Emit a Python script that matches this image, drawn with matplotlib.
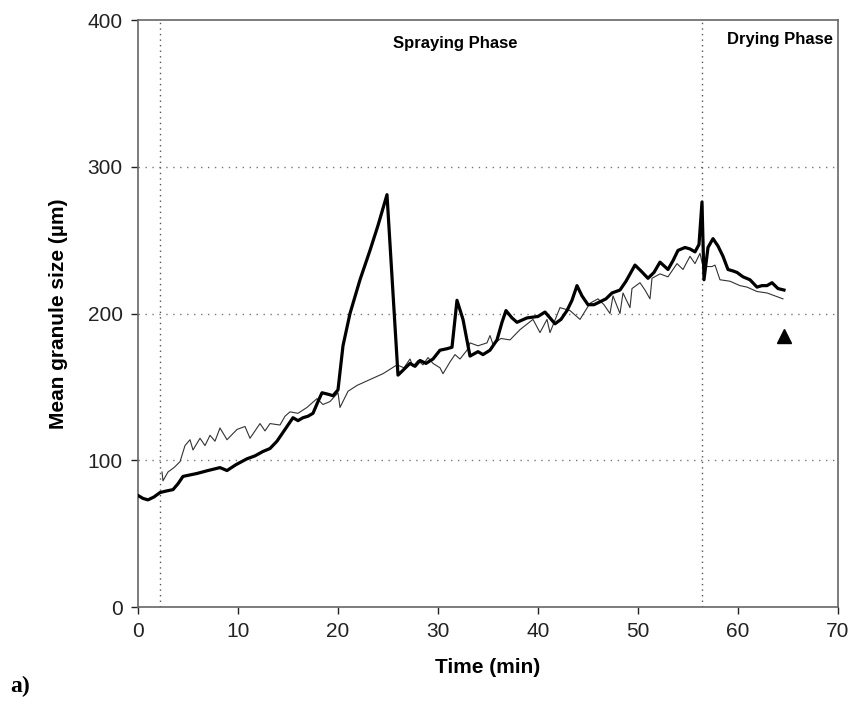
import matplotlib.pyplot as plt

plt.rcParams['font.family'] = ['Liberation Sans', 'DejaVu Sans']

# thick line (online measurement)
time_a = [0.0, 0.5, 1.0, 1.6, 2.2, 2.8, 3.5, 4.0, 4.5, 5.2, 5.9, 7.0, 8.2, 8.9, 9.8,
          10.9, 11.7, 12.5, 13.2, 13.9, 14.4, 14.9, 15.5, 16.0, 16.5, 17.0, 17.5,
          18.0, 18.4, 19.0, 19.5, 20.0, 20.5, 21.2, 22.2, 23.2, 24.0, 24.9, 26.0,
          26.6, 27.2, 27.7, 28.2, 28.8, 29.5, 30.2, 30.9, 31.4, 31.9, 32.5, 33.2,
          34.0, 34.5, 35.2, 35.9, 36.4, 36.8, 37.4, 37.9, 38.9, 40.0, 40.7, 41.2,
          41.7, 42.3, 42.9, 43.4, 43.9, 44.4, 45.0, 45.6, 46.2, 46.8, 47.4, 48.2,
          48.8, 49.7, 50.3, 51.0, 51.6, 52.2, 53.0, 53.5, 54.0, 54.7, 55.2, 55.7,
          56.1, 56.4, 56.6, 57.0, 57.5, 58.0, 58.5, 59.0, 59.5, 59.9, 60.5, 61.2,
          61.9, 62.4, 62.9, 63.4, 64.0, 64.6]
size_a = [76, 74, 73, 75, 78, 79, 80, 84, 89, 90, 91, 93, 95, 93, 97,
          101, 103, 106, 108, 113, 118, 123, 129, 127, 129, 130, 132,
          140, 146, 145, 144, 148, 178, 200, 223, 243, 260, 281, 158,
          162, 166, 164, 168, 166, 169, 175, 176, 177, 209, 196, 171,
          174, 172, 175, 182, 194, 202, 197, 194, 197, 198, 201, 197,
          193, 196, 202, 209, 219, 212, 206, 206, 208, 210, 214, 216,
          222, 233, 229, 224, 228, 235, 230, 236, 243, 245, 244, 242,
          247, 276, 223, 245, 251, 246, 239, 230, 229, 228, 225, 223,
          218, 219, 219, 221, 217, 216]

# thin line (offline reference)
time_b = [2.4, 2.5, 3.0, 3.6, 4.2, 4.7, 5.2, 5.5, 6.2, 6.7, 7.2, 7.7, 8.2, 8.9,
          9.9, 10.7, 11.2, 12.2, 12.7, 13.2, 14.2, 14.7, 15.2, 16.0, 16.9, 17.9,
          18.5, 19.2, 20.0, 20.2, 21.0, 21.9, 23.2, 24.5, 25.9, 26.6, 27.2, 27.5,
          28.0, 28.5, 29.0, 29.5, 30.2, 30.5, 31.2, 31.7, 32.2, 32.9, 33.2, 34.0,
          34.9, 35.2, 35.5, 36.3, 37.2, 38.2, 39.5, 40.2, 40.9, 41.2, 42.2, 43.2,
          44.2, 45.2, 46.0, 46.6, 47.2, 47.5, 48.2, 48.5, 49.2, 49.4, 50.2, 50.7,
          51.2, 51.4, 52.2, 53.0, 53.9, 54.5, 55.2, 55.7, 56.2, 56.5, 57.4, 57.7,
          58.2, 59.2, 60.2, 60.9, 61.9, 62.9, 63.7, 64.5]
size_b = [92, 86, 92, 95, 99, 110, 114, 107, 115, 110, 117, 113, 122, 114,
          121, 123, 115, 125, 120, 125, 124, 130, 133, 132, 136, 142,
          138, 140, 146, 136, 147, 151, 155, 159, 165, 163, 169, 164,
          168, 165, 170, 166, 163, 159, 167, 172, 169, 175, 180, 178,
          180, 185, 179, 183, 182, 189, 196, 187, 196, 187, 204, 202,
          196, 207, 210, 206, 200, 212, 200, 214, 204, 217, 221, 216,
          210, 224, 227, 225, 234, 230, 239, 234, 241, 232, 232, 233,
          223, 222, 219, 218, 215, 214, 212, 210]

# single offline measurement after drying
tri_time = [64.6]
tri_size = [185]

phase_lines = [2.2, 56.4]

fig = plt.figure(figsize=(8.55, 7.05), dpi=100)
ax = fig.add_axes([0.1614, 0.139, 0.8187, 0.8326])

for yy in [100, 200, 300]:
    ax.axhline(yy, color='#777777', lw=1.0, ls=(0, (1, 4)), zorder=1)
for xx in phase_lines:
    ax.axvline(xx, color='#555555', lw=1.0, ls=(0, (1, 3)), zorder=1)

ax.plot(time_b, size_b, color='#333333', lw=0.8, zorder=2)
ax.plot(time_a, size_a, color='black', lw=2.3, zorder=3)
ax.plot(tri_time, tri_size, marker='^', color='black', ms=10, ls='none', zorder=4)

ax.set_xlim(0, 70)
ax.set_ylim(0, 400)
ax.set_xticks(range(0, 71, 10))
ax.set_yticks(range(0, 401, 100))
ax.tick_params(direction='out', length=5, width=1, labelsize=15, colors='#222222', pad=6)
for sp in ax.spines.values():
    sp.set_color('#666666')
    sp.set_linewidth(1.2)

ax.set_xlabel('Time (min)', fontsize=15, fontweight='bold', labelpad=12)
ax.set_ylabel('Mean granule size (\u00b5m)', fontsize=15, fontweight='bold', labelpad=14)

ax.text(31.7, 384, 'Spraying Phase', fontsize=12, fontweight='bold', ha='center', va='center')
ax.text(64.2, 387, 'Drying Phase', fontsize=12, fontweight='bold', ha='center', va='center')

fig.text(0.012, 0.018, 'a)', fontsize=17, fontweight='bold', family='Liberation Serif')

fig.savefig('out.png', dpi=100)
